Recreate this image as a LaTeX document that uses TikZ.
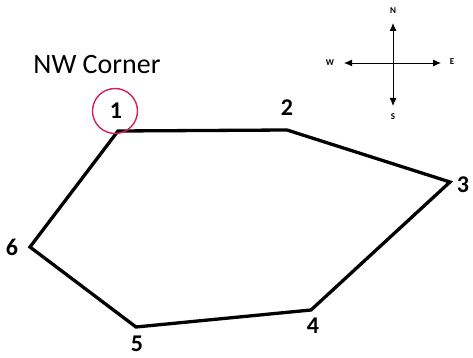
\documentclass[tikz,border=0pt]{standalone}
\usepackage{fontspec}
\setmainfont{Carlito}
\usetikzlibrary{arrows.meta}
\definecolor{ringred}{RGB}{212,32,84}
\tikzset{
  edge/.style={line width=3.3pt, line join=miter},
  vlabel/.style={font=\fontsize{24}{24}\selectfont\bfseries, inner sep=0pt},
  dirlabel/.style={font=\fontsize{9}{9}\selectfont\bfseries, inner sep=0pt},
  comparrow/.style={line width=0.9pt, {Latex[length=8pt,width=7pt]}-{Latex[length=8pt,width=7pt]}},
}
\begin{document}
\begin{tikzpicture}[x=1pt,y=-1pt]
\useasboundingbox (0,0) rectangle (473,358);
% vertices
\coordinate (v1) at (118,131);
\coordinate (v2) at (287,130);
\coordinate (v3) at (450,182);
\coordinate (v4) at (311,310);
\coordinate (v5) at (136,327);
\coordinate (v6) at (30,247);
\draw[edge] (v1) -- (v2) -- (v3) -- (v4) -- (v5) -- (v6) -- cycle;
% labels
\node[vlabel] (l1) at (116,111) {1};
\node[draw=ringred, line width=1.4pt, circle, minimum size=45pt] (ring) at (115,111) {};
\node[vlabel] (l2) at (287,108) {2};
\node[vlabel] (l3) at (463,185) {3};
\node[vlabel] (l4) at (313,326) {4};
\node[vlabel] (l5) at (137,344) {5};
\node[vlabel] (l6) at (12,247) {6};
\node[font=\fontsize{28}{28}\selectfont, inner sep=0pt] (title) at (97,65) {NW Corner};
% compass
\node[dirlabel] (N) at (393,11) {N};
\node[dirlabel] (S) at (393,117) {S};
\node[dirlabel] (W) at (330,63) {W};
\node[dirlabel] (E) at (452,62) {E};
\coordinate (tn) at (393,23);
\coordinate (ts) at (393,106);
\coordinate (tw) at (344,63);
\coordinate (te) at (441,63);
\draw[comparrow] (tn) -- (ts);
\draw[comparrow] (tw) -- (te);
\end{tikzpicture}
\end{document}
